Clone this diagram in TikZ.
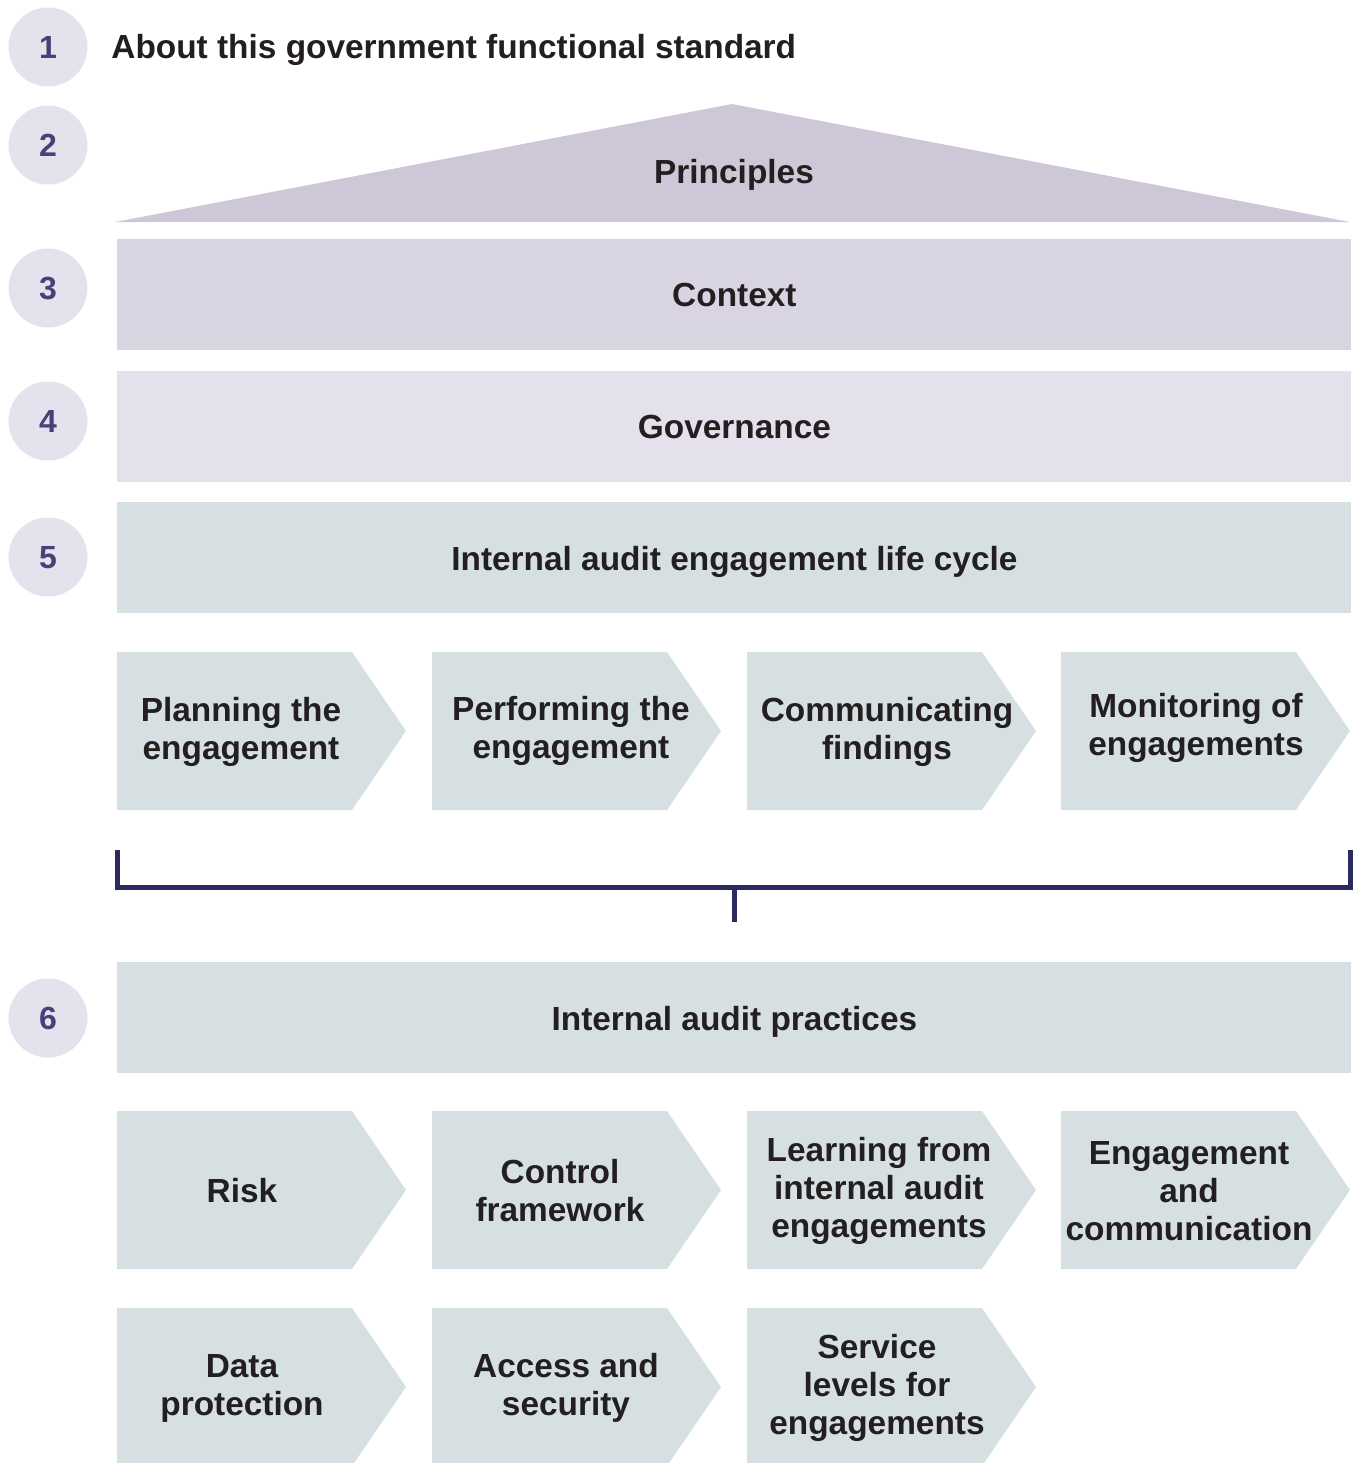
\documentclass[tikz,border=0pt]{standalone}
\usepackage{fontspec}
\setmainfont{Liberation Sans}
\definecolor{circlefill}{HTML}{E4E2EC}
\definecolor{numcol}{HTML}{4B3F78}
\definecolor{principlesfill}{HTML}{CEC7D8}
\definecolor{contextfill}{HTML}{D9D4E2}
\definecolor{govfill}{HTML}{E4E1EC}
\definecolor{auditfill}{HTML}{D6E0E3}
\definecolor{bracketcol}{HTML}{2B2A5E}
\definecolor{inkcol}{HTML}{231F20}
% one process chevron: [text y offset], name, left x, top y, text centre x, text
\newcommand\auditchev[6][0]{%
  \fill[auditfill] (#3,#4) -- ++(235,0) -- ++(54,79) -- ++(-54,79) -- ++(-235,0) -- cycle;
  \node[chevtext] (#2) at (#5,#4+79+#1) {#6};
}
\begin{document}
\begin{tikzpicture}[x=0.5pt,y=-0.5pt,
  labelfont/.style={font=\fontsize{16.7}{19}\selectfont\bfseries},
  numcircle/.style={circle,fill=circlefill,minimum size=39.5pt,inner sep=0pt,
    text=numcol,font=\fontsize{16}{18}\selectfont\bfseries,text depth=0pt},
  band/.style={anchor=north west,minimum width=617pt,minimum height=55.5pt,inner sep=0pt,
    text=inkcol,labelfont,text depth=0pt},
  chevtext/.style={align=center,text=inkcol,inner sep=0pt,labelfont,yshift=-0.5pt},
  bracketline/.style={draw=bracketcol,line width=2.5pt}
]
\useasboundingbox (0,0) rectangle (1359,1463);

% section numbers
\node[numcircle] (n1) at (48,47) {1};
\node[numcircle] (n2) at (48,145) {2};
\node[numcircle] (n3) at (48,288) {3};
\node[numcircle] (n4) at (48,421) {4};
\node[numcircle] (n5) at (48,557) {5};
\node[numcircle] (n6) at (48,1018) {6};

% heading
\node[anchor=west,inner sep=0pt,text=inkcol,labelfont,yshift=-1.5pt]
  (about) at (111,47) {About this government functional standard};

% principles roof
\fill[principlesfill] (115,222) -- (732,104) -- (1350,222) -- cycle;
\node[chevtext,yshift=-1pt] (principles) at (734,172) {Principles};

% layered bands
\node[band,fill=contextfill] (context) at (117,239) {Context};
\node[band,fill=govfill] (governance) at (117,371) {Governance};
\node[band,fill=auditfill] (lifecycle) at (117,502) {Internal audit engagement life cycle};

% life cycle stages
\auditchev{plan}{117}{652}{241}{Planning the\\engagement}
\auditchev[-1]{perform}{432}{652}{571}{Performing the\\engagement}
\auditchev{communicate}{747}{652}{887}{Communicating\\findings}
\auditchev[-4]{monitor}{1061}{652}{1196}{Monitoring of\\engagements}

% bracket joining the stages to the practices
\coordinate (bl) at (117,850);
\coordinate (br) at (1350,850);
\coordinate (stem) at (734,922);
\draw[bracketline] (bl) -- (117,887) -- (1350,887) -- (br);
\draw[bracketline] (734,887) -- (stem);

\node[band,fill=auditfill] (practices) at (117,962) {Internal audit practices};

% practices
\auditchev{risk}{117}{1111}{242}{Risk}
\auditchev{control}{432}{1111}{560}{Control\\framework}
\auditchev{learning}{747}{1111}{879}{Learning from\\internal audit\\engagements}
\auditchev{engage}{1061}{1111}{1189}{Engagement\\and\\communication}
\auditchev{data}{117}{1308}{242}{Data\\protection}
\auditchev{access}{432}{1308}{566}{Access and\\security}
\auditchev{service}{747}{1308}{877}{Service\\levels for\\engagements}
\end{tikzpicture}
\end{document}
